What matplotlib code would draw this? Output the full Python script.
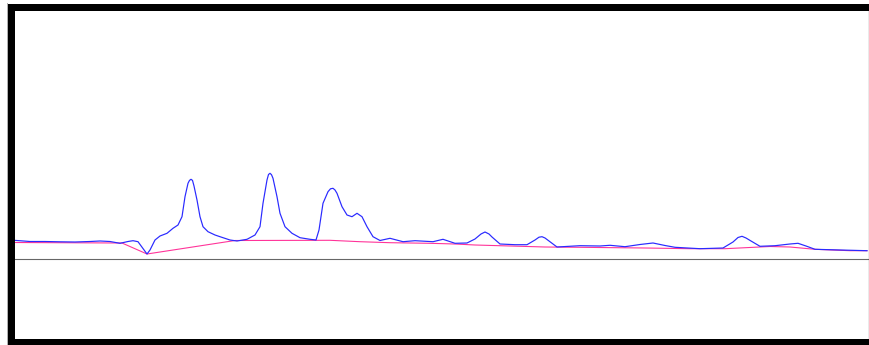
import matplotlib
matplotlib.use("Agg")
import matplotlib.pyplot as plt
from matplotlib.lines import Line2D

# chromatogram trace (time in min, signal in mAU)
t_signal = [0.00, 0.16, 0.31, 0.46, 0.61, 0.76, 0.86, 0.96, 1.06, 1.14, 1.19, 1.24,
            1.33, 1.36, 1.41, 1.46, 1.53, 1.59, 1.64, 1.68, 1.71, 1.74, 1.755, 1.77,
            1.785, 1.80, 1.83, 1.86, 1.89, 1.94, 2.01, 2.06, 2.16, 2.23, 2.33, 2.41,
            2.46, 2.49, 2.53, 2.545, 2.56, 2.575, 2.59, 2.63, 2.66, 2.71, 2.78, 2.86,
            2.96, 3.02, 3.05, 3.09, 3.14, 3.165, 3.19, 3.21, 3.23, 3.28, 3.33, 3.38,
            3.43, 3.48, 3.53, 3.59, 3.66, 3.76, 3.89, 4.01, 4.19, 4.29, 4.41, 4.53,
            4.61, 4.67, 4.71, 4.75, 4.78, 4.86, 5.01, 5.13, 5.21, 5.25, 5.28, 5.31,
            5.35, 5.43, 5.66, 5.86, 5.96, 6.11, 6.26, 6.39, 6.51, 6.61, 6.86, 7.09,
            7.19, 7.24, 7.28, 7.32, 7.37, 7.46, 7.61, 7.76, 7.84, 7.92, 8.01, 8.26,
            8.53]
signal = [18.7, 17.5, 17.5, 17.2, 17.0, 17.5, 18.0, 17.5, 15.7, 17.5, 18.3, 17.3,
          5.0, 9.0, 19.0, 23.0, 25.7, 30.7, 34.0, 42.3, 62.3, 75.7, 78.6, 79.7,
          78.6, 73.0, 59.0, 42.3, 32.3, 27.3, 24.0, 22.3, 19.0, 18.0, 19.7, 24.0,
          32.3, 55.7, 79.0, 84.5, 85.7, 84.3, 80.7, 62.3, 45.7, 32.3, 25.7, 21.3,
          19.7, 19.0, 29.0, 55.7, 67.3, 70.2, 70.7, 69.0, 65.7, 52.3, 44.0, 42.3,
          45.7, 42.3, 32.3, 22.3, 18.5, 20.7, 17.3, 18.3, 17.3, 19.7, 15.7, 16.0,
          20.0, 25.0, 27.0, 25.0, 22.0, 15.0, 14.3, 14.3, 19.0, 21.8, 22.3, 21.0,
          18.0, 12.0, 13.3, 13.0, 13.7, 12.3, 14.5, 16.0, 13.5, 11.7, 10.3, 11.0,
          17.0, 21.5, 22.7, 21.0, 18.0, 12.7, 13.3, 15.0, 15.7, 13.0, 9.7, 9.0,
          8.3]

# fitted baseline
t_base = [0.00, 1.08, 1.33, 2.21, 3.16, 3.46, 3.76, 4.16, 4.41, 4.61, 4.96,
          5.31, 5.66, 6.31, 6.76, 7.11, 7.56, 7.76, 8.01, 8.36, 8.53]
baseline = [16.5, 16.0, 5.0, 18.5, 18.7, 17.3, 16.3, 15.7, 15.0, 14.0, 13.0,
            12.0, 11.7, 11.0, 10.3, 10.3, 12.5, 12.0, 9.7, 8.3, 8.3]

W, H = 869, 345
fig = plt.figure(figsize=(W / 100, H / 100), dpi=100)
fig.patch.set_facecolor("white")

# axes box placed so the thick frame lands where the original has it
ax = fig.add_axes([10.5 / W, 3.5 / H, 858 / W, 335 / H])
ax.set_xlim(-0.035, 8.545)
ax.set_ylim(-82.5, 252.5)

px = 72 / 100
for side in ("left", "top", "bottom"):
    ax.spines[side].set_linewidth(7 * px)
    ax.spines[side].set_color("black")
ax.spines["right"].set_linewidth(1.2 * px)
ax.spines["right"].set_color("#333333")
ax.set_xticks([])
ax.set_yticks([])

ax.axhline(0, color="#666666", lw=1.1 * px)
ax.plot(t_base, baseline, color="#ff3399", lw=1.1 * px)
ax.plot(t_signal, signal, color="#2a2aff", lw=1.2 * px)

# faint outer edge on the far left
fig.add_artist(Line2D([6.5 / W, 6.5 / W], [0, 1 - 3 / H], color="#b0b0b0",
                      lw=1 * px, transform=fig.transFigure))

fig.savefig("out.png", dpi=100)
